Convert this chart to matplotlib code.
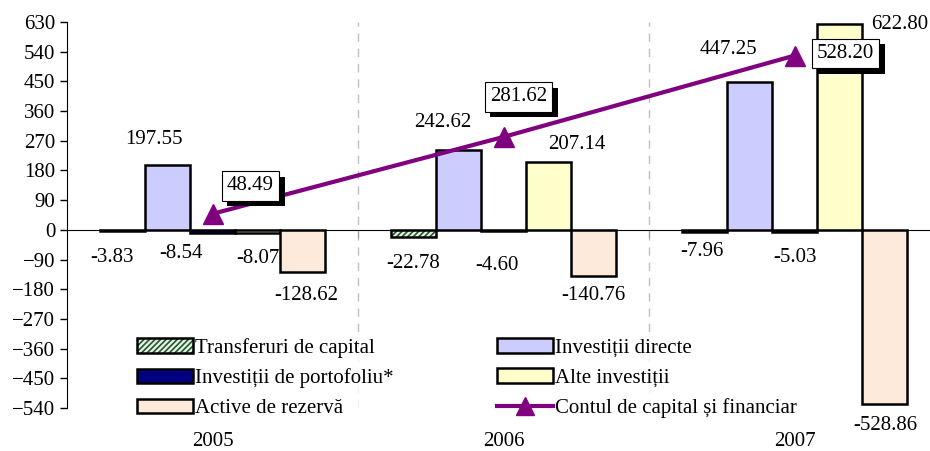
import matplotlib
matplotlib.use('Agg')
import numpy as np
import matplotlib.pyplot as plt
import matplotlib.patheffects as pe
from matplotlib.patches import Patch
from matplotlib.lines import Line2D
from matplotlib.transforms import blended_transform_factory

plt.rcParams['font.family'] = ['Liberation Serif', 'DejaVu Serif']
plt.rcParams['hatch.linewidth'] = 1.2

years = ['2005', '2006', '2007']
transferuri = [-3.83, -22.78, -7.96]
directe = [197.55, 242.62, 447.25]
portofoliu = [-8.54, -4.60, -5.03]
alte = [-8.07, 207.14, 622.80]
active = [-128.62, -140.76, -528.86]
contul = [48.49, 281.62, 528.20]

names = ['Transferuri de capital', 'Investiții directe', 'Investiții de portofoliu*',
         'Alte investiții', 'Active de rezervă', 'Contul de capital și financiar']

# label offsets from the end of each bar, in pixels
trans_off = [(-11, -26), (0, -26), (-3, -19)]
directe_off = [(-14, 25), (-16, 27), (-21, 33)]
portof_off = [(-31, -21), (-7, -34), (0, -26)]
alte_off = [(0, -26), (28, 17), (60, 0)]
active_off = [(4, -23), (0, -19), (1, -21)]
contul_off = [(38, 28), (15, 40), (51, 2)]

fs = 15
fig = plt.figure(figsize=(9.3, 4.51), dpi=100)
ax = fig.add_axes([67 / 930, 1 - 408 / 451, (940 - 67) / 930, (408 - 22) / 451])

x = np.arange(len(years))
w = 0.1546

green = '#1f5a2a'
for b in [0.5, 1.5]:
    ax.axvline(b, color='#c0c0c0', lw=1, ls=(0, (6, 5)), zorder=0)

# transferuri: green hatch with black outline on top
ax.bar(x - 2 * w, transferuri, w, color='#e8f0e8', edgecolor=green, hatch='//////', lw=0, zorder=2)
ax.bar(x - 2 * w, transferuri, w, facecolor='none', edgecolor='black', lw=1.8, zorder=2)
ax.bar(x - w, directe, w, color='#ccccff', edgecolor='black', lw=1.8, zorder=2)
ax.bar(x, portofoliu, w, color='#000080', edgecolor='black', lw=1.8, zorder=2)
ax.bar(x + w, alte, w, color='#ffffcc', edgecolor='black', lw=1.8, zorder=2)
ax.bar(x + 2 * w, active, w, color='#fdeadb', edgecolor='black', lw=1.8, zorder=2)

ax.plot(x, contul, color='#800080', lw=3, marker='^', ms=15, zorder=3)

series = [(transferuri, -2, trans_off), (directe, -1, directe_off), (portofoliu, 0, portof_off),
          (alte, 1, alte_off), (active, 2, active_off)]
for vals, k, offs in series:
    for i, v in enumerate(vals):
        ax.annotate(f'{v:.2f}', xy=(x[i] + k * w, v), xytext=offs[i], textcoords='offset pixels',
                    ha='center', va='center', fontsize=fs, zorder=4)

for i, v in enumerate(contul):
    t = ax.annotate(f'{v:.2f}', xy=(x[i], v), xytext=contul_off[i], textcoords='offset pixels',
                    ha='center', va='center', fontsize=fs, zorder=6,
                    bbox=dict(boxstyle='square,pad=0.25', fc='white', ec='black', lw=0.8))
    t.get_bbox_patch().set_path_effects([pe.withSimplePatchShadow(offset=(4, -4), shadow_rgbFace='black', alpha=1)])

ax.set_xlim(-0.5, 2.5)
ax.set_ylim(-540, 630)
ax.set_yticks(np.arange(-540, 631, 90))
ax.tick_params(axis='y', labelsize=fs, length=5, width=1, direction='out')
ax.spines['top'].set_visible(False)
ax.spines['right'].set_visible(False)
ax.spines['bottom'].set_position(('data', 0))
ax.set_xticks([0.5, 1.5])
ax.set_xticklabels([])
ax.tick_params(axis='x', length=6, color='#999999', direction='out')

tr = blended_transform_factory(ax.transData, ax.transAxes)
for i, yr in enumerate(years):
    ax.annotate(yr, xy=(x[i], 0), xycoords=tr, xytext=(0, -34), textcoords='offset pixels',
                ha='center', va='center', fontsize=fs)

h_trans = (Patch(facecolor='#e8f0e8', edgecolor=green, hatch='//////', lw=0),
           Patch(facecolor='none', edgecolor='black', lw=1.8))
handles = [h_trans,
           Patch(facecolor='#000080', edgecolor='black', lw=1.8),
           Patch(facecolor='#fdeadb', edgecolor='black', lw=1.8),
           Patch(facecolor='#ccccff', edgecolor='black', lw=1.8),
           Patch(facecolor='#ffffcc', edgecolor='black', lw=1.8),
           Line2D([], [], color='#800080', lw=3, marker='^', ms=13)]
labels = [names[0], names[2], names[4], names[1], names[3], names[5]]
leg = ax.legend(handles, labels, ncol=2, loc='upper left', bbox_to_anchor=(137 / 930, 1 - 338 / 451),
                bbox_transform=fig.transFigure, fontsize=fs, frameon=True, fancybox=False,
                borderpad=0, borderaxespad=0, handlelength=2.7, handletextpad=0.1,
                columnspacing=4.95, labelspacing=0.5)
leg.get_frame().set_facecolor('white')
leg.get_frame().set_edgecolor('none')
leg.set_zorder(5)

fig.savefig('out.png', dpi=100)
